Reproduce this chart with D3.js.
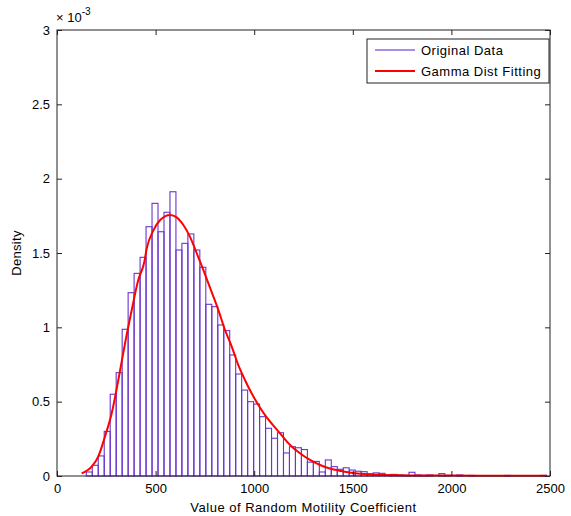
<!DOCTYPE html>
<html>
<head>
<meta charset="utf-8">
<script src="https://d3js.org/d3.v7.min.js"></script>
<style>
  body { margin: 0; background: #fff; }
  text { font-family: "Liberation Sans", Arial, sans-serif; }
</style>
</head>
<body>
<div id="chart"></div>
<script>
// histogram: bins of equal width, densities in units of 1e-3
const binStart = 148.6
const binWidth = 30.3
const density = [
  0.027, 0.072, 0.135, 0.30, 0.55, 0.695, 0.987, 1.233, 1.363, 1.471,
  1.677, 1.834, 1.643, 1.774, 1.912, 1.52, 1.565, 1.628, 1.52, 1.404,
  1.155, 1.139, 1.016, 0.978, 0.814, 0.686, 0.578, 0.50, 0.484, 0.399,
  0.321, 0.254, 0.291, 0.155, 0.197, 0.19, 0.178, 0.093, 0.098, 0.027,
  0.108, 0.063, 0.045, 0.055, 0.04, 0.032, 0.029, 0.015, 0.021, 0.018,
  0.007, 0.011, 0.007, 0.004, 0.025, 0.007, 0.004, 0.007, 0, 0.016,
  0.004, 0, 0.007, 0, 0.004, 0, 0, 0, 0, 0,
  0.004, 0, 0, 0, 0, 0, 0.004
]

// gamma fit curve
const fitX = [125, 176, 209, 243, 277, 311, 345, 379, 412, 443, 455, 488, 522, 573, 607,
  640, 674, 708, 742, 772, 818, 852, 886, 919, 953, 987, 1021, 1055, 1102, 1131,
  1182, 1232, 1283, 1334, 1384, 1432, 1460, 1511, 1577, 1663, 1800, 2000, 2250, 2485]
const fitY = [0.018, 0.063, 0.13, 0.264, 0.42, 0.646, 0.893, 1.117, 1.318, 1.441, 1.53, 1.65, 1.72, 1.756, 1.74,
  1.69, 1.61, 1.50, 1.386, 1.28, 1.117, 0.982, 0.87, 0.747, 0.646, 0.556, 0.478, 0.41, 0.332, 0.287,
  0.209, 0.153, 0.108, 0.074, 0.05, 0.036, 0.028, 0.018, 0.011, 0.007, 0.004, 0.003, 0.002, 0.002]

const xTicks = [0, 500, 1000, 1500, 2000, 2500]
const yTicks = [0, 0.5, 1, 1.5, 2, 2.5, 3]
const legendLabels = ["Original Data", "Gamma Dist Fitting"]

var width = 571, height = 516
var margin = { top: 30, right: 21, bottom: 40, left: 57 }
var fs = 13

var svg = d3.select("#chart").append("svg")
  .attr("width", width)
  .attr("height", height)

var x = d3.scaleLinear().domain([0, 2500]).range([margin.left, width - margin.right])
var y = d3.scaleLinear().domain([0, 3]).range([height - margin.bottom, margin.top])

var barColor = "#6a35cf"

// bars
svg.append("g").selectAll("rect")
  .data(density)
  .enter().append("rect")
  .attr("x", (d, i) => x(binStart + i * binWidth))
  .attr("width", x(binStart + binWidth) - x(binStart))
  .attr("y", d => y(d))
  .attr("height", d => y(0) - y(d))
  .attr("fill", "none")
  .attr("stroke", barColor)
  .attr("stroke-width", 1.1)

// fitted curve
var line = d3.line()
  .x((d, i) => x(fitX[i]))
  .y(d => y(d))
  .curve(d3.curveMonotoneX)

svg.append("path")
  .datum(fitY)
  .attr("d", line)
  .attr("fill", "none")
  .attr("stroke", "#ff0000")
  .attr("stroke-width", 2)

// axes, ticks inside on all four sides
var tickLen = 5
svg.append("g")
  .attr("transform", "translate(0," + y(0) + ")")
  .call(d3.axisBottom(x).tickValues(xTicks).tickSizeInner(-tickLen).tickSizeOuter(0).tickPadding(8).tickFormat(d3.format("d")))
svg.append("g")
  .attr("transform", "translate(0," + y(3) + ")")
  .call(d3.axisTop(x).tickValues(xTicks).tickSizeInner(-tickLen).tickSizeOuter(0).tickFormat(""))
svg.append("g")
  .attr("transform", "translate(" + x(0) + ",0)")
  .call(d3.axisLeft(y).tickValues(yTicks).tickSizeInner(-tickLen).tickSizeOuter(0).tickPadding(7).tickFormat(d3.format("")))
svg.append("g")
  .attr("transform", "translate(" + x(2500) + ",0)")
  .call(d3.axisRight(y).tickValues(yTicks).tickSizeInner(-tickLen).tickSizeOuter(0).tickFormat(""))

svg.selectAll(".domain").remove()
svg.selectAll(".tick line").attr("stroke", "#222")
svg.selectAll(".tick text").attr("font-size", fs).attr("fill", "#000")
  .style("font-family", "'Liberation Sans', Arial, sans-serif")

svg.append("rect")
  .attr("x", x(0)).attr("y", y(3))
  .attr("width", x(2500) - x(0)).attr("height", y(0) - y(3))
  .attr("fill", "none").attr("stroke", "#222").attr("stroke-width", 1)

// exponent label
var expo = svg.append("text")
  .attr("x", x(0) - 1).attr("y", y(3) - 8)
  .attr("font-size", fs)
expo.append("tspan").text("\u00d7 10")
expo.append("tspan").attr("dy", -7).attr("font-size", 10).text("-3")

// axis labels
svg.append("text")
  .attr("x", (x(0) + x(2500)) / 2).attr("y", height - 4)
  .attr("text-anchor", "middle").attr("font-size", fs)
  .style("letter-spacing", "0.5px")
  .text("Value of Random Motility Coefficient")

svg.append("text")
  .attr("transform", "translate(21," + (y(0) + y(3)) / 2 + ")rotate(-90)")
  .attr("text-anchor", "middle").attr("font-size", fs)
  .style("letter-spacing", "0.3px")
  .text("Density")

// legend
var lg = svg.append("g").attr("transform", "translate(367,39)")
lg.append("rect")
  .attr("width", 182).attr("height", 44)
  .attr("fill", "#fff").attr("stroke", "#222").attr("stroke-width", 1)
lg.selectAll(".lgline")
  .data(legendLabels)
  .enter().append("line")
  .attr("x1", 8).attr("x2", 48)
  .attr("y1", (d, i) => 11 + i * 21).attr("y2", (d, i) => 11 + i * 21)
  .attr("stroke", (d, i) => i == 0 ? "#5a18c8" : "#ff0000")
  .attr("stroke-width", (d, i) => i == 0 ? 1 : 2)
lg.selectAll(".lgtext")
  .data(legendLabels)
  .enter().append("text")
  .attr("x", 54).attr("y", (d, i) => 11 + i * 21)
  .attr("dy", "0.35em").attr("font-size", fs)
  .style("letter-spacing", "0.5px")
  .text(d => d)
</script>
</body>
</html>
